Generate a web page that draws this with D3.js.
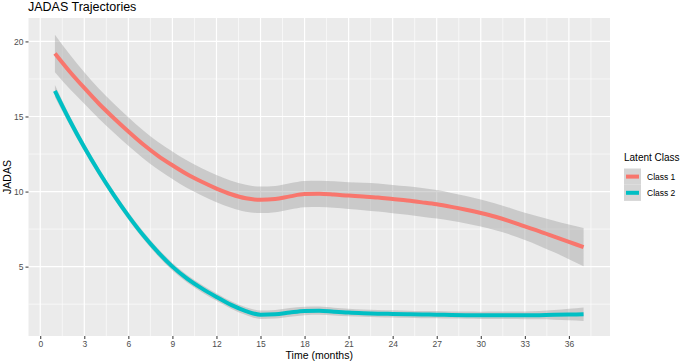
<!DOCTYPE html>
<html>
<head>
<meta charset="utf-8">
<script src="https://cdn.jsdelivr.net/npm/d3@7"></script>
<style>
  body { margin: 0; background: #fff; }
  text { font-family: "Liberation Sans", Arial, sans-serif; }
</style>
</head>
<body>
<div id="chart"></div>
<script>
// months of follow-up
var months = d3.range(1, 38);

// Class 1 smoothed trajectory and half-width of its confidence band
var class1Fit = [19.2, 18.0, 16.9, 15.85, 14.9, 14.0, 13.15, 12.4, 11.75, 11.15,
  10.65, 10.2, 9.82, 9.55, 9.45, 9.5, 9.68, 9.83, 9.85, 9.8,
  9.73, 9.67, 9.6, 9.5, 9.4, 9.28, 9.15, 8.98, 8.79, 8.57,
  8.32, 8.02, 7.68, 7.35, 7.0, 6.65, 6.3];
var class1Ci = [1.25, 1.15, 1.05, 1.0, 0.97, 0.95, 0.93, 0.92, 0.92, 0.92,
  0.91, 0.91, 0.9, 0.9, 0.88, 0.87, 0.87, 0.87, 0.87, 0.88,
  0.89, 0.91, 0.93, 0.94, 0.95, 0.95, 0.95, 0.93, 0.91, 0.9,
  0.89, 0.89, 0.91, 0.97, 1.05, 1.15, 1.27];

// Class 2 smoothed trajectory and half-width of its confidence band
var class2Fit = [16.7, 14.75, 12.95, 11.3, 9.78, 8.38, 7.1, 5.98, 5.0, 4.2,
  3.55, 2.98, 2.45, 2.04, 1.8, 1.83, 1.95, 2.05, 2.07, 2.0,
  1.94, 1.9, 1.87, 1.85, 1.83, 1.81, 1.8, 1.78, 1.77, 1.76,
  1.76, 1.76, 1.76, 1.77, 1.79, 1.81, 1.83];
var class2Ci = [0.4, 0.32, 0.28, 0.26, 0.25, 0.25, 0.25, 0.25, 0.25, 0.25,
  0.25, 0.25, 0.25, 0.26, 0.28, 0.29, 0.29, 0.28, 0.27, 0.26,
  0.25, 0.24, 0.24, 0.24, 0.24, 0.24, 0.24, 0.24, 0.24, 0.24,
  0.25, 0.25, 0.26, 0.28, 0.32, 0.38, 0.45];

var classNames = ["Class 1", "Class 2"];
var classColors = ["#F8766D", "#00BFC4"];

var xTicks = d3.range(0, 37, 3);
var yTicks = [5, 10, 15, 20];

var width = 685, height = 364;
var margin = {top: 18, right: 75, bottom: 28, left: 28.5};

var svg = d3.select("#chart").append("svg")
  .attr("width", width)
  .attr("height", height);

var x = d3.scaleLinear()
  .domain([-0.8, 38.8])
  .range([margin.left, width - margin.right]);

var y = d3.scaleLinear()
  .domain([0.38, 21.56])
  .range([height - margin.bottom, margin.top]);

// panel background
svg.append("rect")
  .attr("x", x.range()[0])
  .attr("y", y.range()[1])
  .attr("width", x.range()[1] - x.range()[0])
  .attr("height", y.range()[0] - y.range()[1])
  .attr("fill", "#EBEBEB");

// minor grid
var xMinor = d3.range(1.5, 38.8, 3);
var yMinor = [2.5, 7.5, 12.5, 17.5];
var grid = svg.append("g");
grid.selectAll(".xminor").data(xMinor).enter().append("line")
  .attr("x1", d => x(d)).attr("x2", d => x(d))
  .attr("y1", y.range()[0]).attr("y2", y.range()[1])
  .attr("stroke", "#fff").attr("stroke-width", 0.6);
grid.selectAll(".yminor").data(yMinor).enter().append("line")
  .attr("y1", d => y(d)).attr("y2", d => y(d))
  .attr("x1", x.range()[0]).attr("x2", x.range()[1])
  .attr("stroke", "#fff").attr("stroke-width", 0.6);
// major grid
grid.selectAll(".xmajor").data(xTicks).enter().append("line")
  .attr("x1", d => x(d)).attr("x2", d => x(d))
  .attr("y1", y.range()[0]).attr("y2", y.range()[1])
  .attr("stroke", "#fff").attr("stroke-width", 1.2);
grid.selectAll(".ymajor").data(yTicks).enter().append("line")
  .attr("y1", d => y(d)).attr("y2", d => y(d))
  .attr("x1", x.range()[0]).attr("x2", x.range()[1])
  .attr("stroke", "#fff").attr("stroke-width", 1.2);

var series = [
  {name: classNames[0], color: classColors[0], fit: class1Fit, ci: class1Ci},
  {name: classNames[1], color: classColors[1], fit: class2Fit, ci: class2Ci}
];

var area = d3.area()
  .x(d => x(d.t))
  .y0(d => y(d.v - d.c))
  .y1(d => y(d.v + d.c))
  .curve(d3.curveMonotoneX);

var line = d3.line()
  .x(d => x(d.t))
  .y(d => y(d.v))
  .curve(d3.curveMonotoneX);

series.forEach(function(s) {
  s.points = months.map(function(t, i) {
    return {t: t, v: s.fit[i], c: s.ci[i]};
  });
});

// confidence bands
svg.append("g").selectAll("path")
  .data(series).enter().append("path")
  .attr("d", d => area(d.points))
  .attr("fill", "#999999")
  .attr("fill-opacity", 0.4);

// fitted lines
svg.append("g").selectAll("path")
  .data(series).enter().append("path")
  .attr("d", d => line(d.points))
  .attr("fill", "none")
  .attr("stroke", d => d.color)
  .attr("stroke-width", 4);

// axes
var xAxis = svg.append("g")
  .attr("transform", "translate(0," + y.range()[0] + ")")
  .call(d3.axisBottom(x).tickValues(xTicks).tickSize(3).tickPadding(2));
var yAxis = svg.append("g")
  .attr("transform", "translate(" + x.range()[0] + ",0)")
  .call(d3.axisLeft(y).tickValues(yTicks).tickSize(3).tickPadding(2));

[xAxis, yAxis].forEach(function(a) {
  a.select(".domain").remove();
  a.selectAll(".tick line").attr("stroke", "#333333").attr("stroke-width", 1);
  a.selectAll(".tick text")
    .attr("fill", "#4D4D4D")
    .style("font-size", "8.5px")
    .style("font-family", "'Liberation Sans', Arial, sans-serif");
});

// axis titles
svg.append("text")
  .attr("x", (x.range()[0] + x.range()[1]) / 2)
  .attr("y", 359)
  .attr("text-anchor", "middle")
  .style("font-size", "10.5px")
  .attr("fill", "#000")
  .text("Time (months)");

svg.append("text")
  .attr("transform", "translate(11," + (y.range()[0] + y.range()[1]) / 2 + ") rotate(-90)")
  .attr("text-anchor", "middle")
  .style("font-size", "10.5px")
  .attr("fill", "#000")
  .text("JADAS");

// plot title
svg.append("text")
  .attr("x", 28)
  .attr("y", 11)
  .style("font-size", "12.5px")
  .attr("fill", "#000")
  .text("JADAS Trajectories");

// legend
var legend = svg.append("g").attr("transform", "translate(624,0)");
legend.append("text")
  .attr("x", 0)
  .attr("y", 161)
  .style("font-size", "10px")
  .attr("fill", "#000")
  .text("Latent Class");

var keys = legend.selectAll(".key").data(series).enter().append("g")
  .attr("transform", (d, i) => "translate(0," + (168.5 + i * 16.2) + ")");
keys.append("rect")
  .attr("width", 17).attr("height", 16.2)
  .attr("fill", "#D5D5D5");
keys.append("line")
  .attr("x1", 2).attr("x2", 15)
  .attr("y1", 8.1).attr("y2", 8.1)
  .attr("stroke", d => d.color)
  .attr("stroke-width", 4);
keys.append("text")
  .attr("x", 23)
  .attr("y", 11.2)
  .style("font-size", "8.5px")
  .attr("fill", "#000")
  .text(d => d.name);
</script>
</body>
</html>
